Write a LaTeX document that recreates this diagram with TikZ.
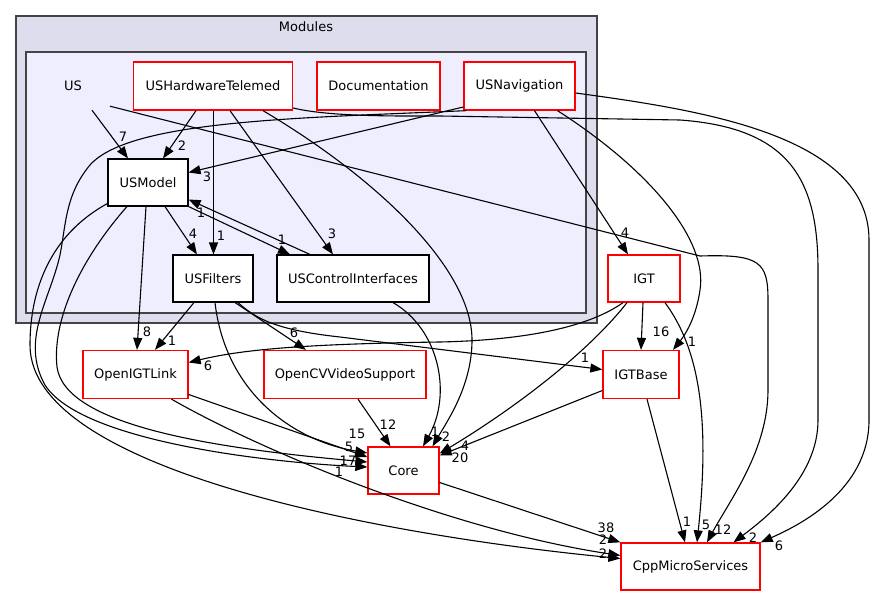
\documentclass[tikz,border=0pt]{standalone}
\usepackage{fontspec}
\setmainfont{DejaVu Sans}
\usetikzlibrary{arrows.meta}
\definecolor{outerfill}{HTML}{DDDDEE}
\definecolor{innerfill}{HTML}{EEEEFF}
\definecolor{clusline}{HTML}{444444}
\tikzset{
  dirred/.style={draw=red, fill=white, line width=1.3pt, minimum height=48pt},
  dirblk/.style={draw=black, fill=white, line width=1.1pt, minimum height=47pt},
  dep/.style={-{Triangle[length=12pt,width=9pt]}, line width=1.1pt},
  cnt/.style={inner sep=0pt},
  clus/.style={draw=clusline, line width=1.8pt},
}

\begin{document}
\begin{tikzpicture}[x=1pt,y=-1pt,font=\fontsize{13}{15}\selectfont]
  \useasboundingbox (0,0) rectangle (875,596);
  % clusters
  \filldraw[clus, fill=outerfill] (16,16) rectangle (597,323);
  \node (modules) at (306,27) {Modules};
  \filldraw[clus, fill=innerfill] (26,52) rectangle (586,313);
  % directories
  \node[minimum width=60pt, minimum height=48pt] (us) at (73,86) {US};
  \node[dirred, minimum width=159pt] (ushw) at (213,86) {USHardwareTelemed};
  \node[dirred, minimum width=123pt] (doc) at (378.5,86) {Documentation};
  \node[dirred, minimum width=111pt] (usnav) at (519.5,86) {USNavigation};
  \node[dirblk, minimum width=80pt] (usmodel) at (148,182.5) {USModel};
  \node[dirblk, minimum width=80pt] (usfilt) at (213,278.5) {USFilters};
  \node[dirblk, minimum width=152pt] (usci) at (353,278.5) {USControlInterfaces};
  \node[dirred, minimum width=72pt, minimum height=47pt] (igt) at (644,278.5) {IGT};
  \node[dirred, minimum width=105pt] (oigtl) at (135.5,374.5) {OpenIGTLink};
  \node[dirred, minimum width=162pt] (ocv) at (345,374.5) {OpenCVVideoSupport};
  \node[dirred, minimum width=76pt] (igtbase) at (641,374.5) {IGTBase};
  \node[dirred, minimum width=71pt, minimum height=47pt] (core) at (403.5,470.5) {Core};
  \node[dirred, minimum width=139pt, minimum height=47pt] (cpp) at (690.5,566.5) {CppMicroServices};

  % from US
  \draw[dep] ([xshift=19pt]us.south) -- ([xshift=-20pt]usmodel.north);
  \node[cnt] (l1) at (123,137) {7};
  \draw[dep] ([xshift=37pt,yshift=4pt]us.south) -- (700,256)
    .. controls (760,254) and (768,262) .. (768,300) -- (768,390)
    .. controls (768,450) and (730,500) .. ([xshift=16.5pt]cpp.north);
  \node[cnt] (l2) at (723,530) {12};
  % from USHardwareTelemed
  \draw[dep] ([xshift=-17pt]ushw.south) -- ([xshift=15pt]usmodel.north);
  \node[cnt] (l3) at (182,146) {2};
  \draw[dep] ([xshift=0.5pt]ushw.south) -- ([xshift=0.5pt]usfilt.north);
  \node[cnt] (l4) at (221,236) {1};
  \draw[dep] ([xshift=17pt]ushw.south) -- ([xshift=-20pt]usci.north);
  \node[cnt] (l5) at (332,234) {3};
  \draw[dep] ([xshift=50pt]ushw.south) .. controls (380,180) and (472,270) .. (472,340)
    .. controls (472,385) and (448,420) .. ([xshift=29pt]core.north);
  \node[cnt] (l6) at (446,437) {2};
  \draw[dep] ([yshift=-22pt]ushw.east) .. controls (330,117) and (400,116) .. (440,116) -- (680,120)
    .. controls (790,128) and (818,180) .. (818,270) -- (818,420)
    .. controls (818,475) and (770,515) .. ([xshift=43pt]cpp.north);
  \node[cnt] (l7) at (753,538) {2};
  % from USNavigation
  \draw[dep] ([yshift=-21pt]usnav.west) -- ([yshift=10pt]usmodel.east);
  \node[cnt] (l8) at (207,177) {3};
  \draw[dep] ([xshift=15pt]usnav.south) -- ([xshift=-16pt]igt.north);
  \node[cnt] (l9) at (625,233) {4};
  \draw[dep] ([xshift=38pt]usnav.south) .. controls (650,170) and (708,240) .. (700,290)
    .. controls (696,318) and (685,335) .. ([xshift=32pt]igtbase.north);
  \node[cnt] (l10) at (692,342) {1};
  \draw[dep] ([yshift=-7pt]usnav.east) .. controls (700,110) and (869,135) .. (869,240) -- (869,420)
    .. controls (869,490) and (800,525) .. (cpp.north east);
  \node[cnt] (l11) at (779,546) {6};
  \draw[dep] ([xshift=3pt]usnav.south west) .. controls (300,118) and (130,120) .. (90,165)
    .. controls (65,195) and (66,225) .. (60,255)
    .. controls (50,300) and (20,340) .. (45,385)
    .. controls (80,440) and (260,462) .. ([yshift=3.5pt]core.west);
  \node[cnt] (l12) at (339,472) {1};
  % from USModel
  \draw[dep] ([xshift=17pt]usmodel.south) -- ([xshift=-16pt]usfilt.north);
  \node[cnt] (l13) at (193,234) {4};
  \draw[dep] (usmodel.south east) -- ([xshift=-63pt]usci.north);
  \node[cnt] (l14) at (282,240) {1};
  \draw[dep] ([xshift=-2pt]usmodel.south) -- ([xshift=1.5pt]oigtl.north);
  \node[cnt] (l15) at (147,332) {8};
  \draw[dep] ([xshift=-21pt]usmodel.south) .. controls (80,260) and (52,320) .. (57,367)
    .. controls (65,425) and (210,448) .. ([yshift=8.5pt]core.west);
  \node[cnt] (l16) at (348,461) {17};
  \draw[dep] ([yshift=-21pt]usmodel.west) .. controls (50,235) and (30,290) .. (30,345)
    .. controls (30,470) and (380,535) .. ([yshift=8pt]cpp.west);
  \node[cnt] (l17) at (603,554) {2};
  % from USControlInterfaces
  \draw[dep] ([xshift=-43pt]usci.north) -- ([yshift=-17pt]usmodel.east);
  \node[cnt] (l18) at (201,213) {1};
  \draw[dep] ([xshift=40pt]usci.south) .. controls (440,330) and (452,395) .. ([xshift=19.5pt]core.north);
  \node[cnt] (l19) at (435,432) {1};
  % from USFilters
  \draw[dep] ([xshift=-19pt]usfilt.south) -- ([xshift=19.5pt]oigtl.north);
  \node[cnt] (l20) at (172,341) {1};
  \draw[dep] ([xshift=22pt]usfilt.south) -- ([xshift=-39pt]ocv.north);
  \node[cnt] (l21) at (294,333) {6};
  \draw[dep] ([xshift=25pt]usfilt.south) .. controls (255,318) and (275,330) .. (340,337)
    -- ([yshift=5pt]igtbase.west);
  \node[cnt] (l22) at (585,358) {1};
  \draw[dep] ([xshift=2pt]usfilt.south) .. controls (225,390) and (290,440) .. ([yshift=17.5pt]core.west);
  \node[cnt] (l23) at (349,447) {5};
  % from IGT
  \draw[dep] ([xshift=-1pt]igt.south) -- (igtbase.north);
  \node[cnt] (l24) at (661,332) {16};
  \draw[dep] ([xshift=-21pt]igt.south) .. controls (590,326) and (530,340) .. (440,342)
    .. controls (300,344) and (240,350) .. ([yshift=12pt]oigtl.east);
  \node[cnt] (l25) at (208,366) {6};
  \draw[dep] ([xshift=-17pt]igt.south) .. controls (590,350) and (520,405) .. ([yshift=17pt]core.east);
  \node[cnt] (l26) at (465,446) {4};
  \draw[dep] ([xshift=21pt]igt.south) .. controls (700,350) and (710,420) .. ([xshift=6.5pt]cpp.north);
  \node[cnt] (l27) at (706,525) {5};
  % from IGTBase
  \draw[dep] ([yshift=-16pt]igtbase.west) -- ([yshift=15pt]core.east);
  \node[cnt] (l28) at (460,458) {20};
  \draw[dep] ([xshift=6pt]igtbase.south) -- ([xshift=-5.5pt]cpp.north);
  \node[cnt] (l29) at (687,522) {1};
  % lower row
  \draw[dep] ([yshift=-20pt]oigtl.east) -- ([yshift=13.5pt]core.west);
  \node[cnt] (l30) at (357,434) {15};
  \draw[dep] ([xshift=36pt]oigtl.south) .. controls (260,450) and (450,530) .. ([yshift=11pt]cpp.west);
  \node[cnt] (l31) at (603,540) {2};
  \draw[dep] ([xshift=13pt]ocv.south) -- ([xshift=-13pt]core.north);
  \node[cnt] (l32) at (388,425) {12};
  \draw[dep] ([yshift=-12pt]core.east) -- (cpp.north west);
  \node[cnt] (l33) at (606,528) {38};
\end{tikzpicture}
\end{document}
